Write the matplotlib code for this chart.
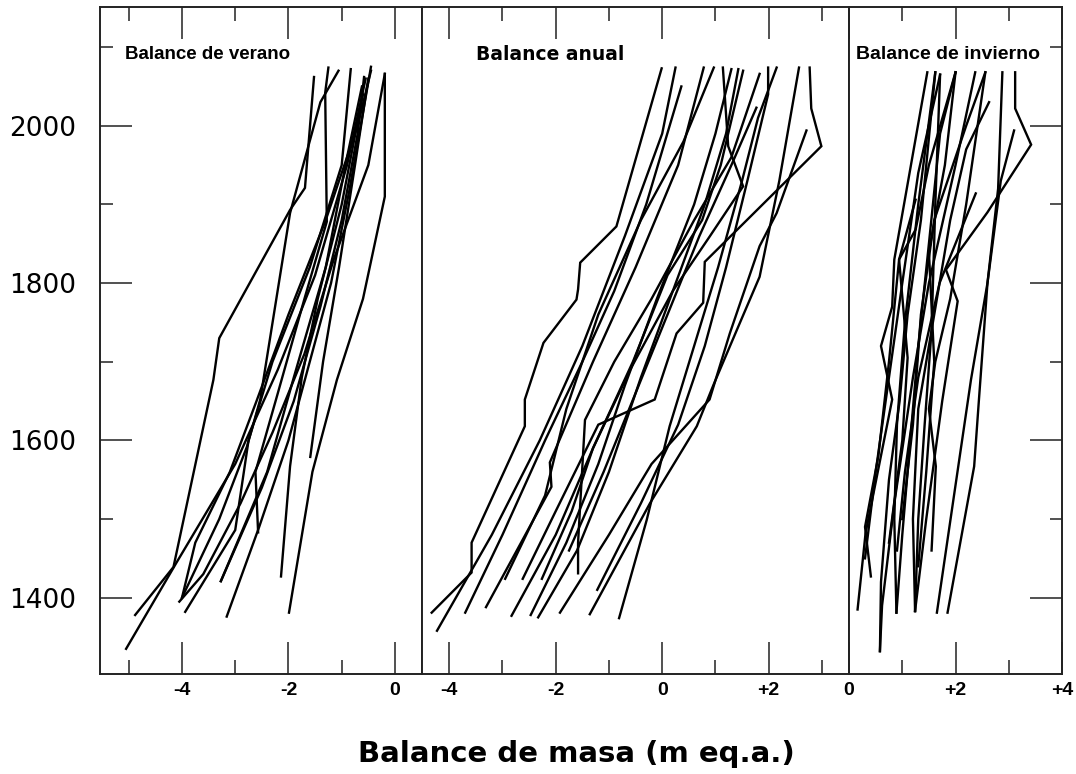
"""
Perfiles de balance de masa (verano, anual, invierno) frente a la altitud.
"""

import numpy as np
import matplotlib
matplotlib.use("Agg")
import matplotlib.pyplot as plt

# --- datos: balance (m eq.a.) y altitud (m) por perfil ---

summer_x = [
    [-5.05, -4.10, -3.00, -2.20, -1.50, -0.90, -0.55],
    [-4.88, -4.16, -3.41, -3.30, -1.97, -1.69, -1.52],
    [-4.00, -3.30, -2.78, -2.53, -1.97, -1.40, -1.06],
    [-2.57, -2.62, -2.20, -1.70, -1.28, -1.31, -1.25],
    [-3.94, -3.00, -2.75, -2.30, -1.60, -1.00, -0.83],
    [-3.27, -2.50, -1.90, -1.40, -1.00, -0.70, -0.58],
    [-3.16, -2.55, -2.00, -1.60, -1.20, -0.85, -0.45],
    [-2.14, -1.97, -1.75, -1.45, -1.00, -0.60],
    [-1.99, -1.55, -1.09, -0.60, -0.19, -0.19],
    [-1.59, -1.35, -1.05, -0.75, -0.50],
    [-4.00, -3.75, -3.10, -2.60, -2.00, -1.30, -0.70, -0.45],
    [-4.05, -3.60, -2.90, -2.30, -1.70, -1.15, -0.50, -0.19],
    [-3.27, -2.40, -1.90, -1.30, -0.90, -0.62],
]
summer_z = [
    [1335, 1445, 1570, 1690, 1810, 1950, 2060],
    [1378, 1439, 1677, 1730, 1893, 1921, 2062],
    [1400, 1500, 1592, 1652, 1889, 2030, 2070],
    [1483, 1560, 1660, 1780, 1878, 2042, 2074],
    [1382, 1486, 1600, 1700, 1820, 1950, 2072],
    [1421, 1540, 1650, 1770, 1880, 1990, 2062],
    [1376, 1490, 1600, 1700, 1800, 1920, 2075],
    [1427, 1567, 1680, 1780, 1900, 2040],
    [1381, 1560, 1677, 1780, 1910, 2066],
    [1579, 1700, 1820, 1950, 2060],
    [1400, 1470, 1560, 1650, 1760, 1880, 2000, 2070],
    [1395, 1430, 1520, 1610, 1710, 1830, 1950, 2066],
    [1421, 1560, 1680, 1820, 1960, 2050],
]

annual_x = [
    [-4.33, -3.58, -3.58, -2.58, -2.58, -2.23, -1.61, -1.58, -1.54, -0.86, -0.01],
    [-4.23, -3.20, -2.30, -1.50, -0.70, 0.00, 0.25],
    [-2.62, -2.00, -1.20, -0.14, 0.27, 0.77, 0.80, 2.99, 2.80, 2.77],
    [-3.70, -3.00, -2.20, -1.50, -0.90, -0.30, 0.36],
    [-3.31, -2.08, -2.11, -1.30, -0.50, 0.30, 0.78],
    [-2.95, -2.20, -1.80, -1.20, -0.40, 0.40, 0.97],
    [-2.83, -2.00, -1.30, -0.60, 0.20, 0.90, 1.52, 1.24, 1.14],
    [-2.47, -1.80, -1.20, -0.70, -0.10, 0.60, 1.00, 1.30],
    [-2.33, -1.60, -1.00, -0.40, 0.20, 0.80, 1.20, 1.43],
    [-2.26, -1.70, -1.30, -0.55, 0.10, 0.75, 1.10, 1.52],
    [-1.75, -1.10, -0.50, 0.10, 0.70, 1.30, 1.77],
    [-1.58, -1.58, -1.45, -0.90, -0.20, 0.60, 1.30, 1.83],
    [-1.36, -0.23, 0.65, 0.96, 1.40, 1.83, 2.20, 2.57],
    [-1.22, -0.40, 0.30, 0.80, 1.20, 1.60, 1.99, 1.99],
    [-0.81, -0.29, 0.14, 0.60, 1.05, 1.50, 1.80, 2.15],
    [-1.92, -1.00, -0.20, 0.89, 1.27, 1.83, 2.15, 2.71],
]
annual_z = [
    [1381, 1432, 1470, 1618, 1652, 1724, 1779, 1792, 1826, 1872, 2073],
    [1358, 1480, 1600, 1720, 1860, 1990, 2074],
    [1424, 1510, 1620, 1652, 1736, 1775, 1827, 1974, 2022, 2074],
    [1381, 1480, 1600, 1700, 1790, 1900, 2050],
    [1388, 1541, 1572, 1700, 1820, 1950, 2074],
    [1424, 1530, 1640, 1760, 1880, 1980, 2074],
    [1377, 1480, 1590, 1690, 1790, 1860, 1923, 1974, 2074],
    [1378, 1470, 1570, 1670, 1780, 1900, 1990, 2072],
    [1375, 1460, 1560, 1680, 1790, 1900, 1990, 2072],
    [1424, 1510, 1590, 1700, 1810, 1880, 1950, 2070],
    [1460, 1560, 1660, 1760, 1860, 1950, 2023],
    [1431, 1470, 1626, 1700, 1780, 1880, 1960, 2066],
    [1379, 1520, 1618, 1670, 1740, 1808, 1930, 2074],
    [1410, 1520, 1620, 1720, 1820, 1930, 2040, 2074],
    [1374, 1499, 1618, 1720, 1820, 1930, 2010, 2074],
    [1381, 1480, 1570, 1652, 1736, 1847, 1889, 1994],
]

winter_x = [
    [0.16, 0.31, 0.81, 0.60, 0.81, 0.85, 1.47],
    [0.58, 0.60, 0.75, 0.95, 1.10, 1.35, 1.62],
    [0.41, 0.30, 0.55, 0.75, 0.94, 1.25],
    [0.89, 1.00, 1.15, 1.30, 1.50, 1.71, 2.00],
    [1.24, 1.30, 1.42, 1.55, 1.62, 1.71],
    [1.55, 1.63, 1.50, 1.62, 1.90, 2.20, 2.56],
    [1.85, 2.35, 2.44, 2.60, 2.85, 3.10],
    [1.24, 1.45, 1.75, 2.04, 1.82, 2.60, 3.42, 3.12, 3.12],
    [1.65, 1.95, 2.29, 2.60, 2.80, 2.88],
    [0.58, 0.62, 0.85, 1.20, 1.50, 2.00, 2.37],
    [0.89, 0.85, 0.90, 1.05, 1.30, 1.62],
    [1.24, 1.20, 1.30, 1.60, 1.90, 2.20, 2.63],
    [0.30, 0.50, 0.75, 1.00, 1.30, 1.71],
    [0.90, 1.05, 1.30, 1.70, 2.38],
    [0.75, 1.00, 1.10, 0.94, 1.25, 1.50, 2.00],
    [1.30, 1.45, 1.60, 1.50, 1.80, 2.00],
    [1.00, 1.20, 1.35, 1.60, 2.20, 2.56],
]
winter_z = [
    [1385, 1482, 1652, 1720, 1770, 1830, 2068],
    [1332, 1420, 1550, 1650, 1760, 1880, 2068],
    [1427, 1490, 1580, 1700, 1830, 1906],
    [1381, 1480, 1600, 1720, 1850, 1990, 2068],
    [1383, 1500, 1620, 1740, 1900, 2065],
    [1460, 1567, 1640, 1700, 1780, 1900, 2068],
    [1381, 1567, 1652, 1800, 1930, 1994],
    [1383, 1500, 1650, 1777, 1817, 1890, 1976, 2022, 2068],
    [1381, 1520, 1677, 1800, 1920, 2068],
    [1332, 1390, 1520, 1680, 1800, 1950, 2068],
    [1381, 1500, 1620, 1750, 1900, 2068],
    [1383, 1500, 1640, 1760, 1880, 1970, 2030],
    [1450, 1560, 1680, 1800, 1940, 2065],
    [1460, 1560, 1680, 1800, 1914],
    [1470, 1600, 1705, 1830, 1868, 1950, 2068],
    [1440, 1560, 1700, 1840, 1950, 2068],
    [1500, 1620, 1760, 1880, 2000, 2068],
]

panel_titles = ["Balance de verano", "Balance anual", "Balance de invierno"]
y_major = [1400, 1600, 1800, 2000]
y_minor = [1500, 1700, 1900, 2100]

# --- figura ---
fig = plt.figure(figsize=(10.76, 7.74), dpi=100)
gs = fig.add_gridspec(1, 3, width_ratios=[6.05, 8.02, 4.0], wspace=0,
                      left=100 / 1076, right=1062 / 1076,
                      bottom=100 / 774, top=767 / 774)
axes = [fig.add_subplot(gs[0, i]) for i in range(3)]

panels = [
    (summer_x, summer_z, (-5.54, 0.51), [-4, -2, 0], ["-4", "-2", "0"], [-5, -3, -1]),
    (annual_x, annual_z, (-4.51, 3.51), [-4, -2, 0, 2], ["-4", "-2", "0", "+2"], [-3, -1, 1, 3]),
    (winter_x, winter_z, (0, 4), [0, 2, 4], ["0", "+2", "+4"], [1, 3]),
]

for ax, (xs, zs, xlim, xmaj, xlab, xmin) in zip(axes, panels):
    for x, z in zip(xs, zs):
        ax.plot(x, z, color="black", lw=1.7, solid_joinstyle="miter")
    ax.set_xlim(*xlim)
    ax.set_ylim(1303, 2151)
    ax.set_xticks(xmaj)
    ax.set_xticks(xmin, minor=True)
    ax.set_xticklabels(xlab, fontfamily="Liberation Sans", fontweight="bold", fontsize=14)
    ax.tick_params(axis="x", which="both", direction="in", top=True, bottom=True,
                   width=1.1, color="#222222", pad=6)
    ax.tick_params(axis="x", which="major", length=23)
    ax.tick_params(axis="x", which="minor", length=10)
    ax.set_yticks(y_major)
    ax.set_yticks(y_minor, minor=True)
    ax.tick_params(axis="y", which="both", direction="in", left=False, right=False,
                   labelleft=False, width=1.1, color="#222222")
    ax.tick_params(axis="y", which="major", length=23)
    ax.tick_params(axis="y", which="minor", length=9)
    for sp in ax.spines.values():
        sp.set_linewidth(1.4)
        sp.set_color("#222222")

# eje de altitud a la izquierda, marcas tambien a la derecha del ultimo panel
axes[0].tick_params(axis="y", which="both", left=True, labelleft=True,
                    labelsize=19, pad=17)
axes[2].tick_params(axis="y", which="both", right=True)

# titulos de los paneles
axes[0].text(-5.07, 2090, panel_titles[0], fontfamily="Liberation Sans",
             fontweight="bold", fontsize=13.5, va="center")
axes[1].text(-3.50, 2090, panel_titles[1], fontfamily="DejaVu Sans",
             fontweight="bold", fontsize=13.5, va="center")
axes[2].text(0.13, 2090, panel_titles[2], fontfamily="Liberation Sans",
             fontweight="bold", fontsize=14, va="center")

fig.text(576 / 1076, 1 - 754 / 774, "Balance de masa (m eq.a.)",
         fontfamily="DejaVu Sans", fontweight="bold", fontsize=21,
         ha="center", va="center")

fig.savefig("out.png", dpi=100)
